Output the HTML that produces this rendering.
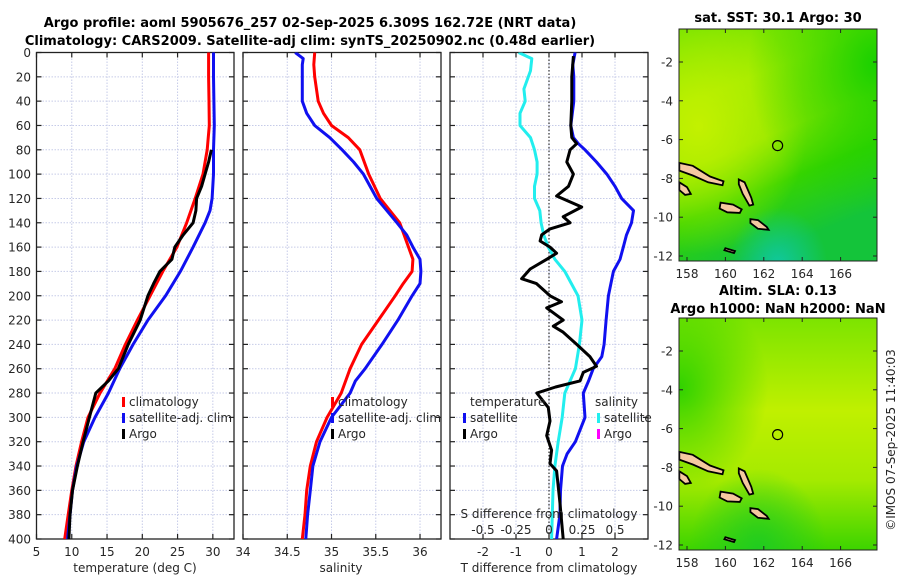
<!DOCTYPE html>
<html><head><meta charset="utf-8"><style>
html,body{margin:0;padding:0;background:#fff;}
svg{display:block;font-family:"DejaVu Sans","Liberation Sans",sans-serif;}
.t{font-size:12px;fill:#262626;}
.ttl{font-size:13px;font-weight:bold;fill:#000;}
</style></head><body>
<svg id="fig" width="900" height="580" viewBox="0 0 900 580" xmlns="http://www.w3.org/2000/svg">
<rect width="900" height="580" fill="#fff"/>
<defs>
<clipPath id="c1"><rect x="36.5" y="52.5" width="197.5" height="486.5"/></clipPath>
<clipPath id="c2"><rect x="243" y="52.5" width="198" height="486.5"/></clipPath>
<clipPath id="c3"><rect x="450" y="52.5" width="198" height="486.5"/></clipPath>
<linearGradient id="m1g" x1="0" y1="0" x2="0.35" y2="1">
<stop offset="0" stop-color="#6ee200"/><stop offset="0.3" stop-color="#9aea00"/><stop offset="0.55" stop-color="#8ee600"/><stop offset="0.75" stop-color="#36d400"/><stop offset="1" stop-color="#14c43a"/></linearGradient>
<radialGradient id="m1r" cx="0.1" cy="0.42" r="0.55"><stop offset="0" stop-color="#c8f200" stop-opacity="0.9"/><stop offset="1" stop-color="#c8f200" stop-opacity="0"/></radialGradient>
<radialGradient id="m1tr" cx="1" cy="0.15" r="0.65"><stop offset="0" stop-color="#18d000" stop-opacity="1"/><stop offset="1" stop-color="#18d000" stop-opacity="0"/></radialGradient>
<radialGradient id="m1b" cx="0.5" cy="1.02" r="0.25"><stop offset="0" stop-color="#10c8a0"/><stop offset="1" stop-color="#10c8a0" stop-opacity="0"/></radialGradient>
<linearGradient id="m2g" x1="0" y1="0" x2="0" y2="1">
<stop offset="0" stop-color="#7ce400"/><stop offset="0.4" stop-color="#c0f000"/><stop offset="0.7" stop-color="#a4ea00"/><stop offset="1" stop-color="#3cd400"/></linearGradient>
<radialGradient id="m2l" cx="0" cy="0.3" r="0.45"><stop offset="0" stop-color="#30d200"/><stop offset="1" stop-color="#30d200" stop-opacity="0"/></radialGradient>
<radialGradient id="m2b" cx="0.4" cy="1" r="0.35"><stop offset="0" stop-color="#20cc20"/><stop offset="1" stop-color="#20cc20" stop-opacity="0"/></radialGradient>
</defs>
<g id="layer"></g>
</svg>
<script>
// ---- data: temperature panel ----
const tClimDepth=[0,20,40,60,80,100,120,140,160,180,200,220,240,260,280,300,320,340,360,380,400];
const tClimVal=[29.4,29.4,29.45,29.5,29.2,28.6,27.5,26.3,24.9,22.9,21.1,19.3,17.6,16.1,14.0,12.3,11.4,10.6,10.0,9.5,9.0];
const tSatDepth=[0,20,40,60,80,100,120,130,140,160,180,200,220,240,260,280,300,320,340,360,380,400];
const tSatVal=[30.1,30.1,30.15,30.2,30.1,30.1,29.9,29.6,28.9,27.2,25.4,23.3,20.8,18.7,16.8,15.2,13.3,11.7,10.7,10.1,9.75,9.4];
const tArgoDepth=[80,90,100,110,120,130,140,150,160,170,180,190,200,220,240,260,270,280,300,320,340,360,380,400];
const tArgoVal=[29.8,29.4,28.9,28.4,27.7,27.6,27.2,25.8,24.6,24.2,22.5,21.6,20.8,19.7,18.0,16.6,15.2,13.4,12.5,11.6,10.8,10.1,9.75,9.6];
// ---- data: salinity panel ----
const sClimDepth=[0,10,20,40,50,60,70,80,100,120,140,160,170,180,190,200,220,240,260,280,300,320,340,360,380,400];
const sClimVal=[34.81,34.80,34.81,34.85,34.91,35.0,35.19,35.32,35.42,35.55,35.77,35.87,35.92,35.91,35.81,35.72,35.53,35.34,35.21,35.11,34.95,34.83,34.76,34.72,34.70,34.67];
const sSatDepth=[0,5,10,20,40,50,60,70,80,90,100,120,140,150,160,170,180,190,200,220,240,260,270,280,300,320,340,360,380,400];
const sSatVal=[34.59,34.68,34.67,34.67,34.67,34.72,34.81,34.98,35.12,35.25,35.36,35.51,35.74,35.85,35.92,36.0,36.01,36.0,35.91,35.75,35.57,35.38,35.27,35.21,35.0,34.87,34.79,34.76,34.73,34.71];
// ---- data: difference panel ----
const dTSatDepth=[0,10,20,40,60,70,75,80,90,100,110,120,130,140,150,160,170,180,200,220,240,250,260,270,280,300,320,330,340,360,380,400];
const dTSatVal=[0.79,0.72,0.75,0.75,0.66,0.74,0.89,1.09,1.44,1.75,2.0,2.2,2.56,2.5,2.35,2.25,2.15,1.95,1.8,1.73,1.67,1.6,1.34,1.2,1.04,1.09,0.8,0.55,0.41,0.35,0.33,0.23];
const dTArgoDepth=[3,20,40,60,70,75,80,90,100,110,118,127,135,140,145,150,155,160,165,170,178,186,190,200,205,210,220,225,230,240,250,258,263,270,275,280,292,303,315,327,338,344,370,400];
const dTArgoVal=[0.74,0.69,0.69,0.66,0.69,0.84,0.64,0.54,0.74,0.59,0.23,0.99,0.43,0.64,0.03,-0.22,-0.27,0.03,0.23,-0.07,-0.57,-0.83,-0.38,0.03,0.38,-0.07,0.43,0.13,0.43,0.84,1.24,1.44,1.04,0.94,0.2,-0.37,-0.02,0.03,-0.07,0.08,0.03,0.23,0.33,0.43];
const dSSatDepth=[0,5,15,30,40,50,60,70,80,90,100,110,120,130,140,150,160,170,180,190,200,220,240,260,280,290,300,320,340,360,380,400];
const dSSatVal=[-0.23,-0.13,-0.14,-0.19,-0.18,-0.22,-0.22,-0.14,-0.11,-0.09,-0.09,-0.11,-0.11,-0.07,-0.06,-0.04,-0.005,0.045,0.12,0.17,0.22,0.25,0.23,0.2,0.12,0.11,0.10,0.07,0.045,0.03,0.025,0.02];
// ---- tick labels ----
const depthTicks=[0,20,40,60,80,100,120,140,160,180,200,220,240,260,280,300,320,340,360,380,400];
const tempTicks=[5,10,15,20,25,30];
const salTicks=[34,34.5,35,35.5,36];
const dTTicks=[-2,-1,0,1,2];
const dSTicks=[-0.5,-0.25,0,0.25,0.5];
const dSTickLabels=["-0.5","-0.25","0","0.25","0.5"];
const lonTicks=[158,160,162,164,166];
const latTicks=[-2,-4,-6,-8,-10,-12];
const argoLon=162.72, argoLat=-6.309;

const NS="http://www.w3.org/2000/svg";
const L=document.getElementById('layer');
function mk(tag,attrs,parent,text){const e=document.createElementNS(NS,tag);for(const k in attrs)e.setAttribute(k,attrs[k]);if(text!==undefined)e.textContent=text;(parent||L).appendChild(e);return e;}

const Y0=52.5,Y1=539;
const yD=d=>Y0+(Y1-Y0)*d/400;
const P1={x0:36.5,x1:234,min:5,max:33};
const P2={x0:243,x1:441,min:34,max:36.237};
const P3={x0:450,x1:648,min:-3,max:3};
const sx=(P,v)=>P.x0+(P.x1-P.x0)*(v-P.min)/(P.max-P.min);
const sxS=v=>sx(P3,v*4);

function panel(P,name,xt,xlabels){
  const g=mk('g',{});
  
  
  for(const d of depthTicks){
    const y=yD(d);
    if(d>0&&d<400)mk('line',{x1:P.x0,x2:P.x1,y1:y,y2:y,stroke:'#c6cbe8','stroke-width':1,'stroke-dasharray':'1.5,1.5'},g);
    mk('line',{x1:P.x0,x2:P.x0+5,y1:y,y2:y,stroke:'#222','stroke-width':1.2},g);
    mk('line',{x1:P.x1-5,x2:P.x1,y1:y,y2:y,stroke:'#222','stroke-width':1.2},g);
  }
  xt.forEach((v,i)=>{
    const x=sx(P,v);
    if(x>P.x0+1&&x<P.x1-1)mk('line',{x1:x,x2:x,y1:Y0,y2:Y1,stroke:'#c6cbe8','stroke-width':1,'stroke-dasharray':'1.5,1.5'},g);
    mk('line',{x1:x,x2:x,y1:Y0,y2:Y0+5,stroke:'#222','stroke-width':1.2},g);
    mk('line',{x1:x,x2:x,y1:Y1-5,y2:Y1,stroke:'#222','stroke-width':1.2},g);
    const lab=mk('text',{x:x,y:Y1+17,'text-anchor':'middle',class:'t'},g,xlabels?xlabels[i]:String(v));
    
    
  });
  mk('rect',{x:P.x0,y:Y0,width:P.x1-P.x0,height:Y1-Y0,fill:'none',stroke:'#222','stroke-width':1.3},g);
  return g;
}
function line(dep,val,xf,color,clip,name,w){
  const pts=dep.map((d,i)=>xf(val[i]).toFixed(1)+','+yD(d).toFixed(1)).join(' ');
  const p=mk('polyline',{points:pts,fill:'none',stroke:color,'stroke-width':w||3,'stroke-linejoin':'round','clip-path':'url(#'+clip+')'});
  
  
}
function legendEntry(x,y,color,label,name){
  const g=mk('g',{});
  
  
  if(color)mk('rect',{x:x,y:y-9,width:3,height:10,fill:color},g);
  mk('text',{x:x+7,y:y,class:'t','font-size':'12.5px',fill:'#000'},g,label);
}

// Panel 1
panel(P1,'temperature-panel',tempTicks);
depthTicks.forEach(d=>{const t=mk('text',{x:31,y:yD(d)+4.5,'text-anchor':'end',class:'t'},L,String(d));});
line(tClimDepth,tClimVal,v=>sx(P1,v),'#ff0000','c1','temp-climatology-line');
line(tSatDepth,tSatVal,v=>sx(P1,v),'#1010f0','c1','temp-satellite-line');
line(tArgoDepth,tArgoVal,v=>sx(P1,v),'#000','c1','temp-argo-line');
mk('text',{x:135,y:572,'text-anchor':'middle',class:'t','font-size':'12.5px'},L,'temperature (deg C)');
legendEntry(122,406,'#ff0000','climatology','legend-climatology');
legendEntry(122,422,'#1010f0','satellite-adj. clim','legend-satellite');
legendEntry(122,438,'#000','Argo','legend-argo');

// Panel 2
panel(P2,'salinity-panel',salTicks);
line(sClimDepth,sClimVal,v=>sx(P2,v),'#ff0000','c2','sal-climatology-line');
line(sSatDepth,sSatVal,v=>sx(P2,v),'#1010f0','c2','sal-satellite-line');
mk('text',{x:341,y:572,'text-anchor':'middle',class:'t','font-size':'12.5px'},L,'salinity');
legendEntry(331,406,'#ff0000','climatology','legend-climatology-2');
legendEntry(331,422,'#1010f0','satellite-adj. clim','legend-satellite-2');
legendEntry(331,438,'#000','Argo','legend-argo-2');

// Panel 3
panel(P3,'difference-panel',dTTicks);
mk('line',{x1:sx(P3,0),x2:sx(P3,0),y1:Y0,y2:Y1,stroke:'#333','stroke-width':1.2,'stroke-dasharray':'1.5,2'});
line(dTSatDepth,dTSatVal,v=>sx(P3,v),'#1010f0','c3','tdiff-satellite-line');
line(dSSatDepth,dSSatVal,sxS,'#22eeee','c3','sdiff-satellite-line');
line(dTArgoDepth,dTArgoVal,v=>sx(P3,v),'#000','c3','tdiff-argo-line');
mk('text',{x:549,y:572,'text-anchor':'middle',class:'t','font-size':'12.5px'},L,'T difference from climatology');
mk('text',{x:549,y:518,'text-anchor':'middle',class:'t','font-size':'12.5px',fill:'#000'},L,'S difference from climatology');
dSTicks.forEach((v,i)=>{const t=mk('text',{x:sxS(v),y:534,'text-anchor':'middle',class:'t',fill:'#000'},L,dSTickLabels[i]);});
mk('text',{x:470,y:406,class:'t','font-size':'12.5px',fill:'#000'},L,'temperature');
legendEntry(463,422,'#1010f0','satellite','legend-tdiff-satellite');
legendEntry(463,438,'#000','Argo','legend-tdiff-argo');
mk('text',{x:595,y:406,class:'t','font-size':'12.5px',fill:'#000'},L,'salinity');
legendEntry(597,422,'#22eeee','satellite','legend-sdiff-satellite');
legendEntry(597,438,'#ff00ff','Argo','legend-sdiff-argo');

// Titles
mk('text',{x:310,y:27,'text-anchor':'middle',class:'ttl'},L,'Argo profile: aoml 5905676_257 02-Sep-2025 6.309S 162.72E (NRT data)');
mk('text',{x:310,y:45,'text-anchor':'middle',class:'ttl'},L,'Climatology: CARS2009. Satellite-adj clim: synTS_20250902.nc (0.48d earlier)');

// Maps
const MX0=679,MX1=877;
const lonX=lon=>687+(lon-158)*19.2;
const latY=(lat,top)=>top+33+(-2-lat)*19.4;
const islands=[
 [[157.6,-7.2],[158.3,-7.35],[159.2,-7.9],[159.9,-8.15],[159.85,-8.35],[159.1,-8.2],[158.3,-7.85],[157.6,-7.6]],
 [[157.6,-8.2],[158.0,-8.45],[158.2,-8.8],[157.9,-8.85],[157.6,-8.6]],
 [[160.7,-8.05],[161.0,-8.2],[161.35,-9.0],[161.45,-9.35],[161.25,-9.4],[160.9,-8.8],[160.7,-8.3]],
 [[159.75,-9.25],[160.4,-9.35],[160.85,-9.6],[160.75,-9.78],[160.1,-9.75],[159.7,-9.55]],
 [[161.3,-10.1],[161.7,-10.15],[162.15,-10.5],[162.25,-10.65],[161.7,-10.6],[161.3,-10.3]],
 [[160.0,-11.6],[160.5,-11.75],[160.45,-11.85],[159.95,-11.7]]
];
function drawMap(top,name,fills){
  const g=mk('g',{});
  
  
  const h=232;
  fills.forEach(f=>mk('rect',{x:MX0,y:top,width:MX1-MX0,height:h,fill:f},g));
  islands.forEach(isl=>{
    const pts=isl.map(p=>lonX(p[0]).toFixed(1)+','+latY(p[1],top).toFixed(1)).join(' ');
    const p=mk('polygon',{points:pts,fill:'#f5c8a0',stroke:'#000','stroke-width':1.8},g);
    
    
  });
  const c=mk('circle',{cx:lonX(argoLon),cy:latY(argoLat,top),r:5,fill:'none',stroke:'#000','stroke-width':1.2},g);
  
  
  lonTicks.forEach(v=>{const x=lonX(v);
    mk('line',{x1:x,x2:x,y1:top+h,y2:top+h-4,stroke:'#222'},g);
    mk('line',{x1:x,x2:x,y1:top,y2:top+4,stroke:'#222'},g);
    mk('text',{x:x,y:top+h+17,'text-anchor':'middle',class:'t'},g,String(v));});
  latTicks.forEach(v=>{const y=latY(v,top);
    mk('line',{x1:MX0,x2:MX0+4,y1:y,y2:y,stroke:'#222'},g);
    mk('line',{x1:MX1-4,x2:MX1,y1:y,y2:y,stroke:'#222'},g);
    mk('text',{x:MX0-6,y:y+4.5,'text-anchor':'end',class:'t'},g,String(v));});
  mk('rect',{x:MX0,y:top,width:MX1-MX0,height:h,fill:'none',stroke:'#222','stroke-width':1},g);
}
drawMap(29,'sst-map',['url(#m1g)','url(#m1r)','url(#m1tr)','url(#m1b)']);
drawMap(318,'sla-map',['url(#m2g)','url(#m2l)','url(#m2b)']);
mk('text',{x:778,y:22,'text-anchor':'middle',class:'ttl'},L,'sat. SST: 30.1 Argo: 30');
mk('text',{x:778,y:295,'text-anchor':'middle',class:'ttl'},L,'Altim. SLA: 0.13');
mk('text',{x:778,y:313,'text-anchor':'middle',class:'ttl'},L,'Argo h1000: NaN h2000: NaN');
mk('text',{x:0,y:0,'text-anchor':'middle',class:'t',fill:'#000',transform:'translate(895,440) rotate(-90)'},L,'©IMOS 07-Sep-2025 11:40:03');
</script>
</body></html>
